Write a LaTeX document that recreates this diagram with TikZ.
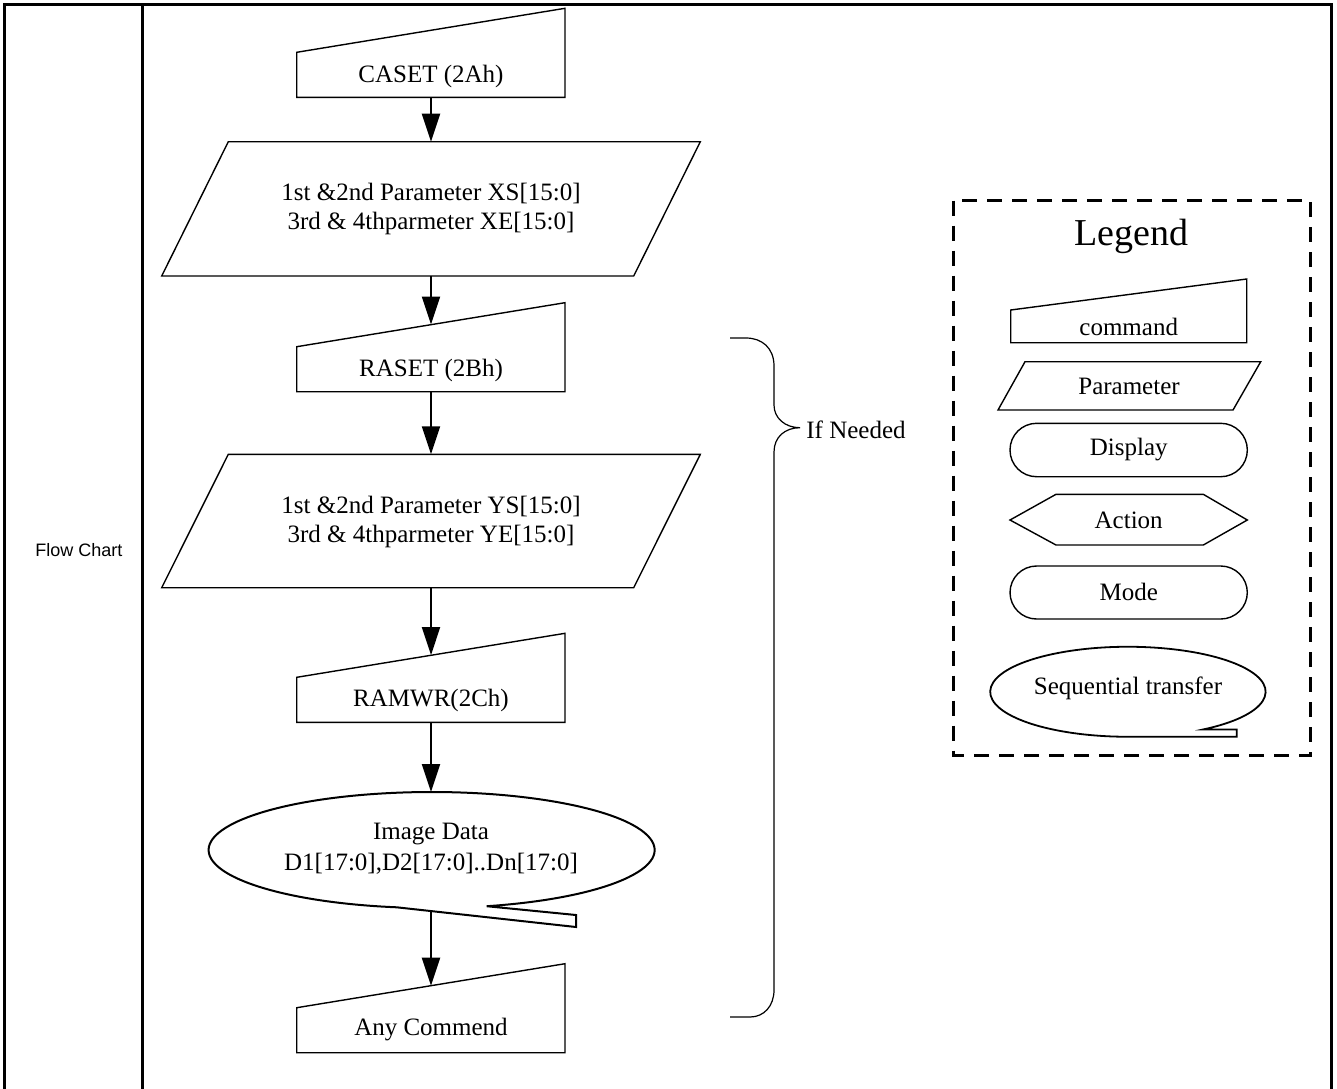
\documentclass[tikz,border=0pt]{standalone}
\usepackage{fontspec}
\setmainfont{Liberation Serif}
\newfontfamily\arialfont{Liberation Sans}
\usetikzlibrary{arrows.meta}
\begin{document}
\begin{tikzpicture}[x=0.5pt,y=-0.5pt,
  shp/.style={draw=black,line width=0.7pt,line join=miter},
  arr/.style={draw=black,line width=1pt,-{Triangle[width=9pt,length=14pt]}},
  txt/.style={inner sep=0pt,align=center,font=\fontsize{12.5}{14.5}\selectfont},
  frame/.style={draw=black,line width=1.5pt},
  legbox/.style={draw=black,line width=1.5pt,dash pattern=on 7.5pt off 5pt},
  bracestyle/.style={draw=black,line width=0.6pt}]
\useasboundingbox (0,0) rectangle (1337,1088);
% outer frame
\draw[frame] (4,4) rectangle (1331,1110);
\draw[frame] (142,4) -- (142,1110);
\node[inner sep=0pt,font=\arialfont\fontsize{9}{11}\selectfont] (fc) at (79,550) {Flow Chart};
% CASET
\draw[shp] (296.7,97.3) -- ++(0,-45) -- ++(268.3,-44) -- ++(0,89) -- cycle;
\node[txt] (caset) at (431,76) {CASET (2Ah)};
\coordinate (caset-b) at (431,97.3);
% Param 1
\draw[shp] (228.3,141.7) -- (700.3,141.7) -- (633.7,276) -- (161.7,276) -- cycle;
\node[txt] (par1) at (431,209) {1st \&2nd Parameter XS[15:0]\\3rd \& 4thparmeter XE[15:0]};
\coordinate (par1-t) at (431,141.7);
\coordinate (par1-b) at (431,276);
% RASET
\draw[shp] (296.7,391.7) -- ++(0,-45) -- ++(268.3,-44) -- ++(0,89) -- cycle;
\node[txt] (raset) at (431,370) {RASET (2Bh)};
\coordinate (raset-t) at (431,324.5);
\coordinate (raset-b) at (431,391.7);
% Param 2
\draw[shp] (228.3,454.3) -- (700.3,454.3) -- (633.7,587.7) -- (161.7,587.7) -- cycle;
\node[txt] (par2) at (431,521.5) {1st \&2nd Parameter YS[15:0]\\3rd \& 4thparmeter YE[15:0]};
\coordinate (par2-t) at (431,454.3);
\coordinate (par2-b) at (431,587.7);
% RAMWR
\draw[shp] (296.7,722.3) -- ++(0,-45) -- ++(268.3,-44) -- ++(0,89) -- cycle;
\node[txt] (ramwr) at (431,700) {RAMWR(2Ch)};
\coordinate (ramwr-t) at (431,655.1);
\coordinate (ramwr-b) at (431,722.3);
% Image data
\draw[shp,line width=1pt] (486.7,906.2) arc[start angle=75.7, end angle=-261, x radius=223, y radius=58] -- (576,927) -- (576,915) -- cycle;
\node[txt,font=\fontsize{12.5}{15.5}\selectfont] (img) at (431,849) {Image Data\\D1[17:0],D2[17:0]..Dn[17:0]};
\coordinate (img-t) at (431,792);
\coordinate (img-b) at (431,911.1);
% Any Commend
\draw[shp] (296.7,1052.7) -- ++(0,-45) -- ++(268.3,-44) -- ++(0,89) -- cycle;
\node[txt] (any) at (431,1030) {Any Commend};
\coordinate (any-t) at (431,985.7);
% arrows
\draw[arr] (caset-b) -- (par1-t);
\draw[arr] (par1-b) -- (raset-t);
\draw[arr] (raset-b) -- (par2-t);
\draw[arr] (par2-b) -- (ramwr-t);
\draw[arr] (ramwr-b) -- (img-t);
\draw[arr] (img-b) -- (any-t);
% brace
\coordinate (btip) at (800,427.7);
\draw[bracestyle] (730,338) -- (746,338) .. controls (762,338) and (774,348) .. (774,366) -- (774,405) .. controls (774,418) and (785,427.7) .. (btip) .. controls (785,427.7) and (774,437) .. (774,452) -- (774,990) .. controls (774,1006) and (764,1017) .. (750,1017) -- (730,1017);
\node[txt,anchor=west] (need) at (806,430) {If Needed};
% legend
\draw[legbox] (953.3,200.7) rectangle (1310.7,755);
\node[inner sep=0pt,font=\fontsize{19}{22}\selectfont] (leg) at (1131.7,236.7) {Legend};
\draw[shp] (1010.7,342.7) -- (1010.7,310) -- (1246.7,279) -- (1246.7,342.7) -- cycle;
\node[txt] (lcmd) at (1128.7,326.7) {command};
\draw[shp] (1025,361.7) -- (1260.7,361.7) -- (1233,410) -- (998,410) -- cycle;
\node[txt] (lpar) at (1129,386) {Parameter};
\draw[shp,rounded corners=13.3pt] (1010,423.3) rectangle (1247.3,476.7);
\node[txt] (ldisp) at (1128.7,450) {Display};
\draw[shp] (1010,520) -- (1056,494.3) -- (1203.3,494.3) -- (1247.3,520) -- (1203.3,545) -- (1056,545) -- cycle;
\node[txt] (lact) at (1128.7,520) {Action};
\draw[shp,rounded corners=13.3pt] (1010,566) rectangle (1247.3,619);
\node[txt] (lmode) at (1128.7,592) {Mode};
\draw[shp,line width=0.9pt] (1203.3,729.4) arc[start angle=56.8, end angle=-270, x radius=137.7, y radius=45] -- (1236.7,736.7) -- (1236.7,729.4) -- cycle;
\node[txt] (lseq) at (1128,688) {Sequential transfer};
\end{tikzpicture}
\end{document}
